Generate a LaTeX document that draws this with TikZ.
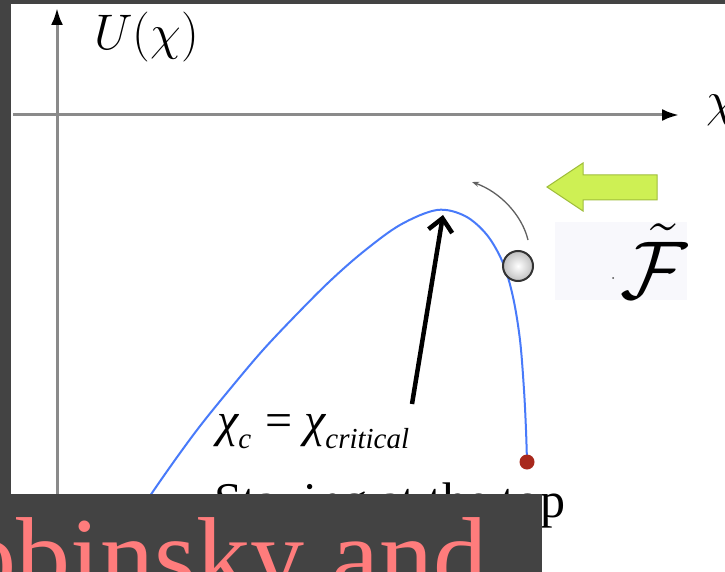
\documentclass[tikz,border=0pt]{standalone}
\usepackage{fix-cm}
\usepackage{fontspec}
\newfontfamily\tnr{Liberation Serif}
\usetikzlibrary{arrows.meta}
\definecolor{darkbg}{HTML}{434343}
\definecolor{curveblue}{RGB}{72,122,250}
\definecolor{pinktext}{RGB}{255,124,124}
\definecolor{reddot}{RGB}{168,40,28}
\definecolor{greenfill}{RGB}{206,240,84}
\definecolor{greenedge}{RGB}{160,190,60}
\definecolor{axisgray}{RGB}{138,138,138}
\definecolor{boxtint}{RGB}{248,248,252}
\tikzset{
  axisline/.style={axisgray, line width=3pt, -{Latex[length=17pt,width=12pt,color=black]}},
  potential/.style={curveblue, line width=2pt},
  pointer/.style={black, line width=4.5pt, -{Straight Barb[length=13pt,width=24pt]}},
  motion/.style={gray!75!black, line width=1.3pt, -{Stealth[length=7pt,width=5pt]}},
  label/.style={anchor=base west, inner sep=0pt},
  ballnode/.style={circle, minimum size=30pt, inner sep=0pt, draw=gray!40!black, line width=2pt, inner color=white, outer color=gray!50},
  dotnode/.style={circle, minimum size=15pt, inner sep=0pt, fill=reddot}
}
\begin{document}
\begin{tikzpicture}[x=1pt,y=-1pt]
\useasboundingbox (0,0) rectangle (725,572);
\clip (0,0) rectangle (725,572);
\fill[darkbg] (0,0) rectangle (725,572);
\fill[white] (11,4) rectangle (725,572);
% axes
\coordinate (xs) at (13,115);
\coordinate (xe) at (679,115);
\coordinate (ys) at (57,540);
\coordinate (ye) at (57,8);
\draw[axisline] (ys) -- (ye);
\draw[axisline] (xs) -- (xe);
\node[label] (ulab) at (94,50) {\fontsize{50}{60}\selectfont$U(\chi)$};
\node[label] (xlab) at (706,117) {\fontsize{50}{60}\selectfont$\chi$};
% potential curve
\draw[potential] plot[smooth, tension=0.55] coordinates {(120,540) (163,477) (197,430) (230,389) (263,350) (297,314) (330,281) (363,252) (400,225) (437,210) (465,216) (487,235) (503,263) (513,297) (520,340) (524,390) (526,430) (527,462)};
% force label box
\fill[boxtint] (555,222) rectangle (687,300);
\fill[black!70] (613,278) circle (1pt);
\node[label] (flab) at (620,298) {\fontsize{82}{90}\selectfont$\tilde{\mathcal{F}}$};
% green arrow
\filldraw[fill=greenfill, draw=greenedge, line width=1pt] (547,187) -- (583,163) -- (583,175) -- (657,175) -- (657,200) -- (583,200) -- (583,211) -- cycle;
% motion arc
\coordinate (arcS) at (528,240);
\coordinate (arcE) at (472,182);
\draw[motion] (arcS) .. controls (522,215) and (500,192) .. (arcE);
% ball and end dot
\node[ballnode] (ball) at (518,266) {};
\node[dotnode] (enddot) at (527,462) {};
% pointer arrow
\coordinate (tail) at (412,404);
\coordinate (peak) at (443,215);
\draw[pointer] (tail) -- (peak);
\node[label] (crit) at (217,436) {\tnr\fontsize{48}{50}\selectfont\itshape χ\raisebox{-12pt}{\fontsize{29}{30}\selectfont c}\hspace{14pt}\upshape=\hspace{12pt}\itshape χ\raisebox{-12pt}{\fontsize{29}{30}\selectfont critical}};
\node[label] (stay) at (214,517) {\tnr\fontsize{50}{60}\selectfont Staying at the top};
% overlay box
\fill[darkbg] (0,494) rectangle (542,572);
\node[label, text=pinktext] (names) at (-38,592) {\tnr\fontsize{108}{112}\selectfont obinsky and};
\end{tikzpicture}
\end{document}
